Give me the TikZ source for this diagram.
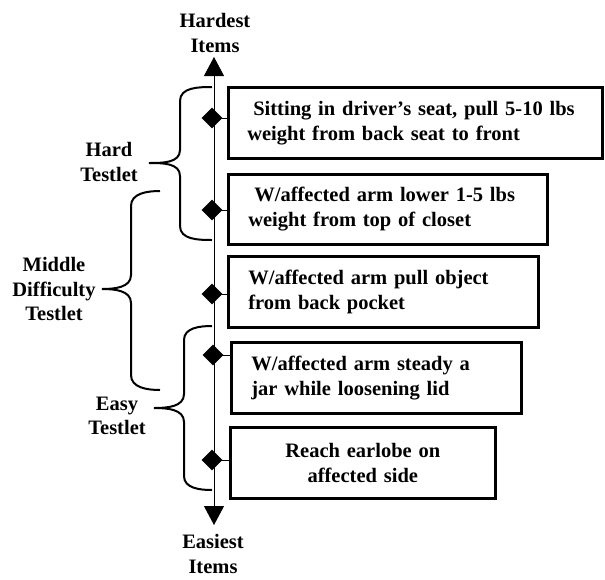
\documentclass[tikz,border=0pt]{standalone}
\usepackage{fontspec}
\setmainfont{Liberation Serif}
\usetikzlibrary{arrows.meta,shapes.geometric}
\begin{document}
\begin{tikzpicture}[x=1pt,y=-1pt,
  every node/.style={font=\bfseries\fontsize{20.5}{24.7}\selectfont},
  itembox/.style={draw,line width=2.6pt,anchor=north west,minimum height=71pt,inner xsep=20pt,inner ysep=0pt},
  dmark/.style={diamond,aspect=1,fill=black,minimum size=21pt,inner sep=0pt},
  lbl/.style={align=center,inner sep=0pt},
  brace/.style={line width=2pt},
  axisline/.style={line width=0.9pt},
  tick/.style={line width=0.9pt}]
\useasboundingbox (0,0) rectangle (605,579);
% axis
\coordinate (axtop) at (214,57);
\coordinate (axbot) at (214,525);
\coordinate (axmid) at (214,300);
\draw[axisline,-{Triangle[width=20pt,length=19pt]}] (axmid) -- (axtop);
\draw[axisline,-{Triangle[width=20pt,length=19pt]}] (axmid) -- (axbot);
\node[lbl] (hard) at (215,33) {Hardest\\Items};
\node[lbl] (easy) at (213,554) {Easiest\\Items};
% boxes
\node[itembox,text width=336pt,align=left,inner xsep=19pt] (b1) at (227,86) {\hspace*{6pt}Sitting in driver’s seat, pull 5-10 lbs\\weight from back seat to front};
\node[itembox,text width=279pt,align=left,minimum height=70pt] (b2) at (227,173) {\hspace*{6pt}W/affected arm lower 1-5 lbs\\weight from top of closet};
\node[itembox,text width=270pt,align=left] (b3) at (227,255) {W/affected arm pull object\\from back pocket};
\node[itembox,text width=250pt,align=left] (b4) at (230,341) {W/affected arm steady a\\jar while loosening lid};
\node[itembox,text width=225pt,align=center] (b5) at (229,426) {Reach earlobe on\\affected side};
% diamonds
\node[dmark] (d1) at (212,118) {};
\node[dmark] (d2) at (212,210) {};
\node[dmark] (d3) at (212,294) {};
\node[dmark] (d4) at (213,355) {};
\node[dmark] (d5) at (212,460) {};
\foreach \i in {1,...,5} \draw[tick] (d\i.center) -- (b\i.west |- d\i.center);
% braces
\draw[brace] (212,87) to[out=180,in=90] (180,101) -- (180,150) to[out=-90,in=0] (149,163)
  to[out=0,in=90] (180,176) -- (180,226) to[out=-90,in=180] (212,240);
\draw[brace] (160,191) to[out=180,in=90] (131,206) -- (131,275) to[out=-90,in=0] (102,289)
  to[out=0,in=90] (131,303) -- (131,375) to[out=-90,in=180] (160,390);
\draw[brace] (212,326) to[out=180,in=90] (184,340) -- (184,394) to[out=-90,in=0] (154,408)
  to[out=0,in=90] (184,422) -- (184,476) to[out=-90,in=180] (212,490);
% brace labels
\node[lbl] (lh) at (109,162) {Hard\\Testlet};
\node[lbl] (lm) at (54,289) {Middle\\Difficulty\\Testlet};
\node[lbl] (le) at (117,416) {Easy\\Testlet};
\end{tikzpicture}
\end{document}
